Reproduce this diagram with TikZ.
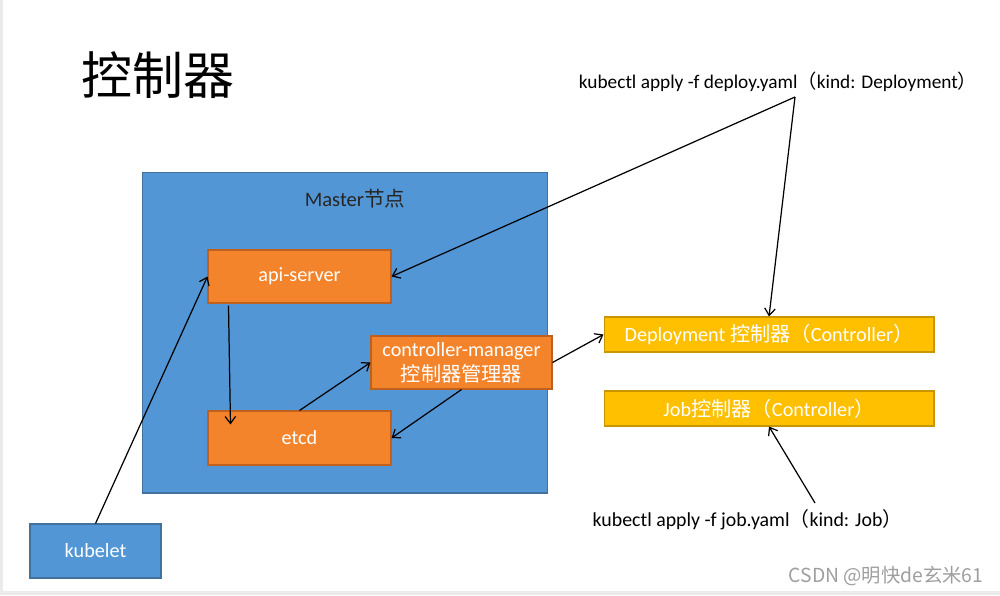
\documentclass[tikz,border=0pt]{standalone}
\usepackage{fontspec}
\setmainfont{Carlito}
\newfontfamily\cjk{Noto Sans CJK SC}
\usetikzlibrary{arrows.meta,calc}
\definecolor{nodeblue}{HTML}{5296D6}
\definecolor{edgeblue}{HTML}{41719C}
\definecolor{orangebox}{HTML}{F4842C}
\definecolor{edgeorange}{HTML}{C0601E}
\definecolor{goldbox}{HTML}{FFC000}
\definecolor{edgegold}{HTML}{C89600}
\tikzset{
    bluebox/.style={draw=edgeblue,fill=nodeblue,inner sep=0pt,line width=0.6pt},
    orangebox/.style={draw=edgeorange,fill=orangebox,text=white,inner sep=0pt,line width=0.6pt,font=\fontsize{11.5}{14}\selectfont},
    goldbox/.style={draw=edgegold,fill=goldbox,text=white,inner sep=0pt,line width=0.6pt,minimum width=6.6cm,minimum height=0.7cm,font=\fontsize{11.5}{14}\selectfont},
    cmd/.style={font=\fontsize{11}{13}\selectfont,inner sep=0pt},
    link/.style={-{Straight Barb[length=4pt,width=6pt]},line width=0.7pt},
  }
\begin{document}
\begin{tikzpicture}[x=0.02cm,y=-0.02cm]
  %cadre
  \useasboundingbox (0,0) rectangle (1000,595);
  \fill[black!8] (0,0) rectangle (3,595);
  \fill[black!8] (0,591) rectangle (1000,595);

  %titre
  \node[font=\cjk\fontsize{29}{33}\selectfont] (titre) at (158,75) {控制器};

  %Master
  \node[bluebox,minimum width=8.12cm,minimum height=6.42cm] (master) at (345,332.5) {};
  \node[text=black!85,font=\fontsize{11.7}{14}\selectfont] (mlabel) at (355,199) {Master{\cjk 节点}};
  \node[orangebox,minimum width=3.66cm,minimum height=1.06cm] (api) at (299.5,276.5) {api-server};
  \node[orangebox,minimum width=3.62cm,minimum height=1.06cm,align=center] (cm) at (461.5,362.5)
      {controller-manager\\{\cjk 控制器管理器}};
  \node[orangebox,minimum width=3.66cm,minimum height=1.08cm] (etcd) at (299.5,438) {etcd};

  %kubelet
  \node[bluebox,text=white,minimum width=2.62cm,minimum height=1.08cm,font=\fontsize{11.5}{14}\selectfont] (kubelet) at (95.5,551) {kubelet};

  %controleurs
  \node[goldbox] (deploy) at (769,334.5) {Deployment {\cjk 控制器（}Controller{\cjk ）}};
  \node[goldbox] (job) at (769,408.5) {Job{\cjk 控制器（}Controller{\cjk ）}};

  %commandes
  \node[cmd] (cmd1) at (778,82) {kubectl apply -f deploy.yaml{\cjk （}kind: Deployment{\cjk ）}};
  \node[cmd,font=\fontsize{11.3}{13}\selectfont] (cmd2) at (747.5,520) {kubectl apply -f job.yaml{\cjk （}kind: Job{\cjk ）}};
  \coordinate (t1) at (795,97);
  \coordinate (t2) at (815,503);

  %fleches
  \draw[link] (t1) -- (api.east);
  \draw[link] (t1) -- (deploy.north);
  \draw[link] (kubelet.north) -- (api.west);
  \draw[link] ($(api.south west)+(21,2)$) -- ($(etcd.north west)+(23,14)$);
  \draw[link] (etcd.north) -- (cm.west);
  \draw[link] (cm.south) -- (etcd.east);
  \draw[link] (cm.east) -- (deploy.west);
  \draw[link] (t2) -- (job.south);

  %filigrane
  \node[text=black!38,font=\cjk\fontsize{11}{13}\selectfont] (csdn) at (886,576) {CSDN @明快de玄米61};
\end{tikzpicture}
\end{document}
